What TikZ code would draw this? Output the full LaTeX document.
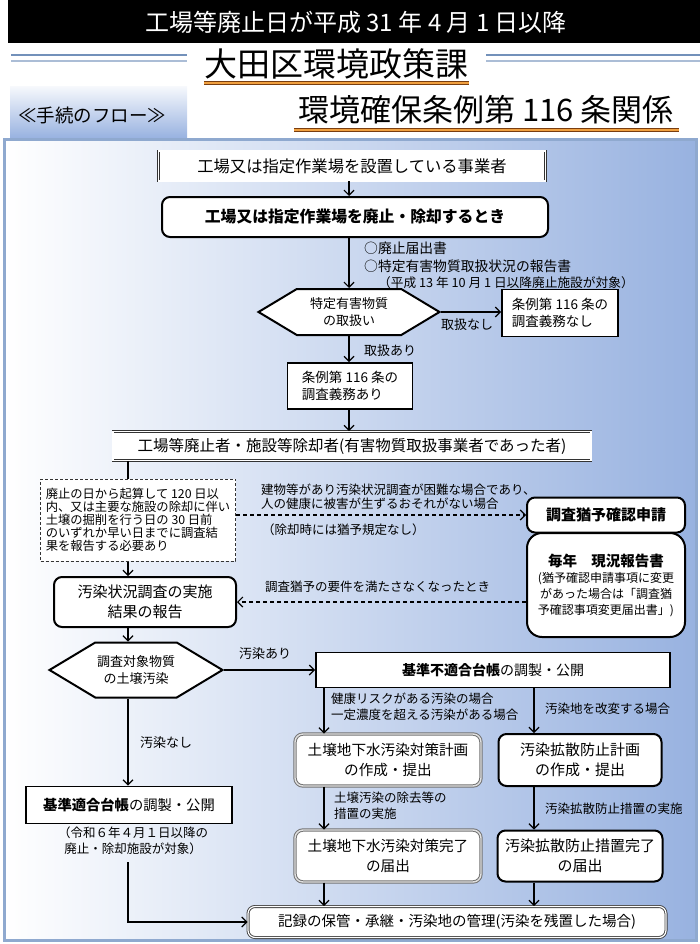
\documentclass[tikz,border=0pt]{standalone}
\usepackage{fontspec}
\setmainfont{Noto Sans CJK JP}
\usepackage{tikz}
\usetikzlibrary{arrows.meta,positioning,shapes.geometric,shapes.symbols}
\definecolor{panelblue}{HTML}{98B2E0}
\definecolor{panelmid}{HTML}{DCE5F5}
\definecolor{frameblue}{HTML}{8FA9CF}
\definecolor{ruleblue}{HTML}{7391BA}
\definecolor{lineorange}{HTML}{F0A040}
\definecolor{linebrown}{HTML}{7A3E10}

\begin{document}
\begin{tikzpicture}[x=1pt,y=-1pt]
	\tikzstyle{sqbox} = [rectangle, draw=black, line width=1.8pt, fill=white, align=center, 
	inner sep=2pt, font=\fontsize{13.5}{17}\selectfont]
	\tikzstyle{dbox} = [rectangle, draw=black!80, double=white, double distance=1.3pt, line width=0.8pt, 
	fill=white, align=center, font=\fontsize{15.5}{18}\selectfont]
	\tikzstyle{rbox} = [rectangle, rounded corners=8pt, draw=black, line width=2pt, fill=white, 
	align=center, font=\fontsize{15}{20}\selectfont]
	\tikzstyle{gbox} = [rectangle, rounded corners=8pt, draw=black!55, double=black!12, double distance=1.4pt, 
	line width=1pt, fill=white, align=center, font=\fontsize{14.6}{20}\selectfont]
	\tikzstyle{hexa} = [signal, signal to=west and east, signal pointer angle=62, draw=black, 
	line width=2pt, fill=white, align=center, inner sep=1pt, font=\fontsize{13}{17}\selectfont]
	\tikzstyle{note} = [inner sep=0pt, anchor=west, font=\fontsize{12.5}{16}\selectfont]
	\tikzstyle{arrow} = [line width=1.2pt, ->, >={Straight Barb[length=5pt,width=10pt]}]
	\tikzstyle{dasharrow} = [arrow, dashed, dash pattern=on 4pt off 3pt]
	\useasboundingbox (0,0) rectangle (700,944);
	% header
	\fill[black] (8,0) rectangle (700,43);
	\node (topic) [text=white, font=\fontsize{24}{28}\selectfont] at (356,22) {工場等廃止日が平成 31 年 4 月 1 日以降};
	\draw[ruleblue, line width=1.6pt] (11,55) -- (187,55) (486,55) -- (700,55);
	\draw[ruleblue!60, line width=1.6pt] (11,61) -- (187,61) (486,61) -- (700,61);
	\node (office) [font=\fontsize{33}{36}\selectfont] at (336,64) {大田区環境政策課};
	\draw[linebrown, line width=3.5pt] (204,83) -- (469,83);
	\draw[lineorange, line width=1.5pt] (204,83) -- (469,83);
	\shade[top color=white!90!panelblue, bottom color=panelblue] (10,87) rectangle (187,138);
	\node (flow) [font=\fontsize{18.5}{21}\selectfont] at (92,115) {≪手続のフロー≫};
	\node (article) [font=\fontsize{31}{34}\selectfont] at (486,110) {環境確保条例第 116 条関係};
	\draw[linebrown, line width=3.5pt] (294,130) -- (679,130);
	\draw[lineorange, line width=1.5pt] (294,130) -- (679,130);
	% panel
	\shade[left color=white, middle color=panelmid, right color=panelblue] (4,140) rectangle (696,940);
	\draw[frameblue, line width=3pt] (4,140) rectangle (696,940);
	\coordinate (spine) at (128,0);
	\coordinate (lcol) at (324,0);
	\coordinate (rcol) at (534,0);
	% nodes
	\node (operator) [dbox, minimum width=387pt, minimum height=30pt, font=\fontsize{16.3}{18}\selectfont] at (352,166) {工場又は指定作業場を設置している事業者};
	\node (closing) [rbox, minimum width=386pt, minimum height=40pt, font=\fontsize{15.8}{20}\selectfont\bfseries] at (355,217) {工場又は指定作業場を廃止・除却するとき};
	\node (handling) [hexa, minimum width=181pt, minimum height=46pt] at (349,312) {特定有害物質\\の取扱い};
	\node (noDuty) [sqbox, align=left, minimum width=116pt, minimum height=47pt] at (560,313) {条例第 116 条の\\調査義務なし};
	\node (duty) [sqbox, align=left, minimum width=125pt, minimum height=46pt] at (350,386) {条例第 116 条の\\調査義務あり};
	\node (closer) [dbox, minimum width=478pt, minimum height=29pt] at (352,446) {工場等廃止者・施設等除却者(有害物質取扱事業者であった者)};
	\node (deadline) [rectangle, draw=black!80, line width=1pt, dashed, dash pattern=on 3pt off 2pt, fill=white, 
	align=left, minimum width=195pt, minimum height=82pt, font=\fontsize{12.3}{13}\selectfont] at (138,520)
	{廃止の日から起算して 120 日以\\内、又は主要な施設の除却に伴い\\土壌の掘削を行う日の 30 日前\\のいずれか早い日までに調査結\\果を報告する必要あり};
	\node (deferApp) [rbox, minimum width=158pt, minimum height=35pt, font=\fontsize{15}{18}\selectfont\bfseries] at (606,515) {調査猶予確認申請};
	\node (annual) [rbox, rounded corners=15pt, minimum width=158pt, minimum height=104pt, font=\fontsize{12}{16}\selectfont] at (606,585)
	{{\fontsize{14.5}{18}\selectfont\bfseries 毎年\quad 現況報告書}\\(猶予確認申請事項に変更\\があった場合は「調査猶\\予確認事項変更届出書」)};
	\node (survey) [rbox, minimum width=182pt, minimum height=50pt] at (145,602) {汚染状況調査の実施\\結果の報告};
	\node (contam) [hexa, minimum width=173pt, minimum height=55pt] at (136,670) {調査対象物質\\の土壌汚染};
	\node (unfitLedger) [sqbox, minimum width=354pt, minimum height=35pt, font=\fontsize{14}{18}\selectfont] at (493,670) {{\bfseries 基準不適合台帳}の調製・公開};
	\node (fitLedger) [sqbox, minimum width=206pt, minimum height=37pt, font=\fontsize{14.3}{18}\selectfont] at (129,805) {{\bfseries 基準適合台帳}の調製・公開};
	\node (planL) [gbox, minimum width=186pt, minimum height=52pt] at (388,760) {土壌地下水汚染対策計画\\の作成・提出};
	\node (planR) [rbox, minimum width=163pt, minimum height=52pt] at (580,760) {汚染拡散防止計画\\の作成・提出};
	\node (doneL) [gbox, minimum width=186pt, minimum height=52pt] at (388,856) {土壌地下水汚染対策完了\\の届出};
	\node (doneR) [rbox, minimum width=165pt, minimum height=51pt] at (580,856) {汚染拡散防止措置完了\\の届出};
	\node (record) [rectangle, rounded corners=7pt, draw=black!75, double=white, double distance=1.2pt, line width=0.9pt, 
	fill=white, minimum width=418pt, minimum height=31pt, font=\fontsize{14.5}{18}\selectfont] at (457,922) {記録の保管・承継・汚染地の管理(汚染を残置した場合)};
	% labels
	\node (docA) [note, font=\fontsize{13.8}{16}\selectfont] at (364,248) {○廃止届出書};
	\node (docB) [note, font=\fontsize{13.8}{16}\selectfont] at (364,266) {○特定有害物質取扱状況の報告書};
	\node (docC) [note, font=\fontsize{12.7}{16}\selectfont] at (378,283) {（平成 13 年 10 月 1 日以降廃止施設が対象）};
	\node (noHandle) [font=\fontsize{13}{16}\selectfont] at (467,325) {取扱なし};
	\node (yesHandle) [note, font=\fontsize{13}{16}\selectfont] at (364,351) {取扱あり};
	\node (caseA) [note] at (261,490) {建物等があり汚染状況調査が困難な場合であり、};
	\node (caseB) [note] at (261,504) {人の健康に被害が生ずるおそれがない場合};
	\node (caseC) [note] at (262,530) {（除却時には猶予規定なし）};
	\node (lapse) [note] at (265,587) {調査猶予の要件を満たさなくなったとき};
	\node (yesContam) [font=\fontsize{13}{16}\selectfont] at (265,654) {汚染あり};
	\node (riskA) [note] at (331,699) {健康リスクがある汚染の場合};
	\node (riskB) [note] at (331,715) {一定濃度を超える汚染がある場合};
	\node (alter) [note] at (545,709) {汚染地を改変する場合};
	\node (noContam) [note, font=\fontsize{13}{16}\selectfont] at (140,743) {汚染なし};
	\node (removeA) [note] at (334,798) {土壌汚染の除去等の};
	\node (removeB) [note] at (334,814) {措置の実施};
	\node (spread) [note] at (545,809) {汚染拡散防止措置の実施};
	\node (fitNote) [align=center, inner sep=0pt, font=\fontsize{12.5}{16}\selectfont] at (133,841) {（令和６年４月１日以降の\\廃止・除却施設が対象）};
	\coordinate (lowstart) at (128,862);
	% connectors
	\draw [arrow] (handling |- operator.south) -- (handling |- closing.north);
	\draw [arrow] (handling |- closing.south) -- (handling.north);
	\draw [arrow] (handling.east) -- (handling.east -| noDuty.west);
	\draw [arrow] (handling.south) -- (handling |- duty.north);
	\draw [arrow] (handling |- duty.south) -- (handling |- closer.north);
	\draw [line width=1.2pt] (spine |- closer.south) -- (spine |- deadline.north);
	\draw [arrow] (spine |- deadline.south) -- (spine |- survey.north);
	\draw [dasharrow] (deferApp.west -| deadline.east) -- (deferApp.west);
	\draw [dasharrow] (survey.east -| annual.west) -- (survey.east);
	\draw [arrow] (spine |- survey.south) -- (spine |- contam.north);
	\draw [arrow] (contam.east) -- (unfitLedger.west);
	\draw [arrow] (spine |- contam.south) -- (spine |- fitLedger.north);
	\draw [arrow] (lcol |- unfitLedger.south) -- (lcol |- planL.north);
	\draw [arrow] (rcol |- unfitLedger.south) -- (rcol |- planR.north);
	\draw [arrow] (lcol |- planL.south) -- (lcol |- doneL.north);
	\draw [arrow] (rcol |- planR.south) -- (rcol |- doneR.north);
	\draw [arrow] (lcol |- doneL.south) -- (lcol |- record.north);
	\draw [arrow] (rcol |- doneR.south) -- (rcol |- record.north);
	\draw [arrow] (lowstart) |- (record.west);
\end{tikzpicture}
\end{document}
